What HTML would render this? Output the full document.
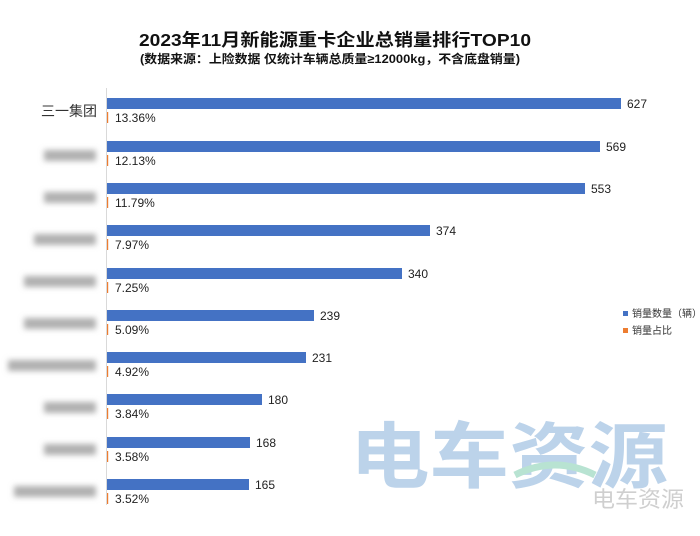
<!DOCTYPE html>
<html><head><meta charset="utf-8"><style>
body{margin:0;background:#fff;}
svg text{font-family:"Liberation Sans","Noto Sans CJK SC",sans-serif;}
</style></head><body>
<svg width="700" height="531" xmlns="http://www.w3.org/2000/svg">
<defs><filter id="b"><feGaussianBlur stdDeviation="3"/></filter></defs>
<rect width="700" height="531" fill="#fff"/>
<text x="335" y="46" text-anchor="middle" font-size="17.5" font-weight="bold" fill="#111" textLength="392" lengthAdjust="spacingAndGlyphs">2023年11月新能源重卡企业总销量排行TOP10</text>
<text x="330" y="63" text-anchor="middle" font-size="12" font-weight="bold" fill="#111" textLength="380" lengthAdjust="spacingAndGlyphs">(数据来源：上险数据 仅统计车辆总质量≥12000kg，不含底盘销量)</text>
<line x1="106.5" y1="88" x2="106.5" y2="505" stroke="#d9d9d9"/>
<text x="97" y="116" text-anchor="end" font-size="14" fill="#333">三一集团</text>
<g filter="url(#b)" fill="#b0b0b0">
<rect x="44" y="150" width="52" height="11"/><rect x="44" y="192" width="52" height="11"/>
<rect x="34" y="234" width="62" height="11"/><rect x="24" y="276" width="72" height="11"/>
<rect x="24" y="318" width="72" height="11"/><rect x="8" y="360" width="88" height="11"/>
<rect x="44" y="402" width="52" height="11"/><rect x="44" y="444" width="52" height="11"/>
<rect x="14" y="486" width="82" height="11"/>
</g>
<g fill="#4472c4">
<rect x="107" y="98" width="514" height="11"/>
<rect x="107" y="141" width="493" height="11"/>
<rect x="107" y="183" width="478" height="11"/>
<rect x="107" y="225" width="323" height="11"/>
<rect x="107" y="268" width="295" height="11"/>
<rect x="107" y="310" width="207" height="11"/>
<rect x="107" y="352" width="199" height="11"/>
<rect x="107" y="394" width="155" height="11"/>
<rect x="107" y="437" width="143" height="11"/>
<rect x="107" y="479" width="142" height="11"/>
</g>
<g fill="#ed7d31">
<rect x="107" y="112" width="1.2" height="11"/><rect x="107" y="155" width="1.2" height="11"/>
<rect x="107" y="197" width="1.2" height="11"/><rect x="107" y="239" width="1.2" height="11"/>
<rect x="107" y="282" width="1.2" height="11"/><rect x="107" y="324" width="1.2" height="11"/>
<rect x="107" y="366" width="1.2" height="11"/><rect x="107" y="408" width="1.2" height="11"/>
<rect x="107" y="451" width="1.2" height="11"/><rect x="107" y="493" width="1.2" height="11"/>
</g>
<g font-size="12" fill="#222">
<text x="627" y="108">627</text><text x="606" y="151">569</text><text x="591" y="193">553</text>
<text x="436" y="235">374</text><text x="408" y="278">340</text><text x="320" y="320">239</text>
<text x="312" y="362">231</text><text x="268" y="404">180</text><text x="256" y="447">168</text>
<text x="255" y="489">165</text>
<text x="115" y="122">13.36%</text><text x="115" y="165">12.13%</text><text x="115" y="207">11.79%</text>
<text x="115" y="249">7.97%</text><text x="115" y="292">7.25%</text><text x="115" y="334">5.09%</text>
<text x="115" y="376">4.92%</text><text x="115" y="418">3.84%</text><text x="115" y="461">3.58%</text>
<text x="115" y="503">3.52%</text>
</g>
<rect x="623" y="311" width="5" height="5" fill="#4472c4"/>
<text x="632" y="317" font-size="10" fill="#333">销量数量（辆）</text>
<rect x="623" y="328" width="5" height="5" fill="#ed7d31"/>
<text x="632" y="334" font-size="10" fill="#333">销量占比</text>
<text x="350" y="482" font-size="72" font-weight="bold" fill="#bcd3ea" textLength="318" lengthAdjust="spacingAndGlyphs">电车资源</text>
<path d="M515 475 Q555 455 595 475" stroke="#b8e3d2" stroke-width="7" fill="none"/>
<text x="592" y="507" font-size="22" fill="#cfcfcf" textLength="92" lengthAdjust="spacingAndGlyphs">电车资源</text>
</svg>
</body></html>
